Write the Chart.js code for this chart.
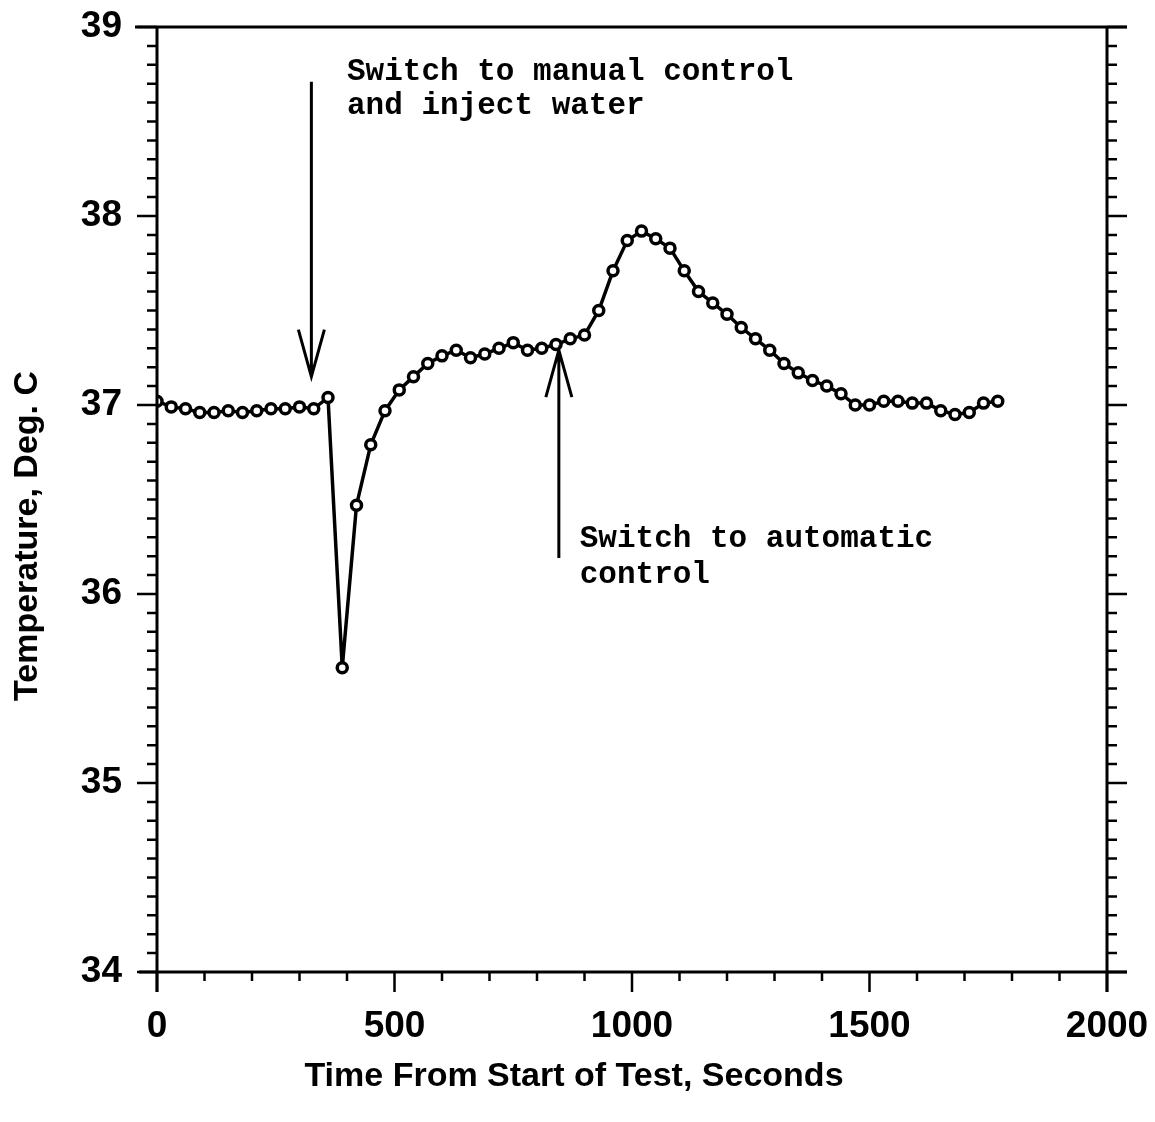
<!DOCTYPE html>
<html>
<head>
<meta charset="utf-8">
<script src="https://cdn.jsdelivr.net/npm/chart.js@4.4.1/dist/chart.umd.min.js"></script>
<style>
  body { margin: 0; background: #fff; }
  canvas { display: block; }
</style>
</head>
<body>
<canvas id="myChart" width="1155" height="1122" style="width:1155px;height:1122px"></canvas>
<script>
let times = [0, 30, 60, 90, 120, 150, 180, 210, 240, 270,
  300, 330, 360, 390, 420, 450, 480, 510, 540, 570,
  600, 630, 660, 690, 720, 750, 780, 810, 840, 870,
  900, 930, 960, 990, 1020, 1050, 1080, 1110, 1140, 1170,
  1200, 1230, 1260, 1290, 1320, 1350, 1380, 1410, 1440, 1470,
  1500, 1530, 1560, 1590, 1620, 1650, 1680, 1710, 1740, 1770];
let temps = [37.02, 36.99, 36.98, 36.96, 36.96, 36.97, 36.96, 36.97, 36.98, 36.98,
  36.99, 36.98, 37.04, 35.61, 36.47, 36.79, 36.97, 37.08, 37.15, 37.22,
  37.26, 37.29, 37.25, 37.27, 37.30, 37.33, 37.29, 37.30, 37.32, 37.35,
  37.37, 37.50, 37.71, 37.87, 37.92, 37.88, 37.83, 37.71, 37.60, 37.54,
  37.48, 37.41, 37.35, 37.29, 37.22, 37.17, 37.13, 37.10, 37.06, 37.00,
  37.00, 37.02, 37.02, 37.01, 37.01, 36.97, 36.95, 36.96, 37.01, 37.02];

let xTitle = 'Time From Start of Test, Seconds';
let yTitle = 'Temperature, Deg. C';

// arrows: x in seconds, from/to in deg C
let notes = [
  { x: 325, from: 38.71, to: 37.15, text: ['Switch to manual control', 'and inject water'], tx: 400, ty: [38.76, 38.58] },
  { x: 846, from: 36.19, to: 37.29, text: ['Switch to automatic', 'control'], tx: 890, ty: [36.29, 36.10] }
];

const frame = {
  id: 'frame',
  afterDraw(chart) {
    const c = chart.ctx;
    const xs = chart.scales.x, ys = chart.scales.y;
    const a = chart.chartArea;
    c.save();
    c.strokeStyle = '#000';
    c.lineCap = 'butt';
    c.lineWidth = 3;
    c.beginPath();
    c.moveTo(a.left - 22, a.top); c.lineTo(a.right + 20, a.top);
    c.moveTo(a.left - 18, a.bottom); c.lineTo(a.right + 20, a.bottom);
    c.moveTo(a.left, a.top); c.lineTo(a.left, a.bottom + 20);
    c.moveTo(a.right, a.top); c.lineTo(a.right, a.bottom + 20);
    c.stroke();

    c.lineWidth = 2.5;
    c.beginPath();
    for (let v = 0; v <= 2000; v += 100) {
      const px = xs.getPixelForValue(v);
      const len = v % 500 === 0 ? 20 : 9;
      c.moveTo(px, a.bottom); c.lineTo(px, a.bottom + len);
    }
    for (let i = 0; i <= 50; i++) {
      const py = ys.getPixelForValue(34 + i / 10);
      const len = i % 10 === 0 ? 20 : 10;
      c.moveTo(a.left, py); c.lineTo(a.left - len, py);
      c.moveTo(a.right, py); c.lineTo(a.right + len, py);
    }
    c.stroke();

    c.lineWidth = 3;
    c.fillStyle = '#000';
    c.font = 'bold 31px "Liberation Mono", "DejaVu Sans Mono", monospace';
    c.textBaseline = 'middle';
    c.textAlign = 'left';
    notes.forEach(n => {
      const px = xs.getPixelForValue(n.x);
      const y0 = ys.getPixelForValue(n.from);
      const y1 = ys.getPixelForValue(n.to);
      const dir = y1 > y0 ? 1 : -1;
      c.beginPath();
      c.moveTo(px, y0); c.lineTo(px, y1);
      c.moveTo(px - 13, y1 - dir * 47); c.lineTo(px, y1); c.lineTo(px + 13, y1 - dir * 47);
      c.stroke();
      n.text.forEach((t, i) => {
        c.fillText(t, xs.getPixelForValue(n.tx), ys.getPixelForValue(n.ty[i]));
      });
    });

    // axis titles (the scan has them off-centre)
    c.font = 'bold 34px "Liberation Sans", Arial, sans-serif';
    c.textAlign = 'center';
    c.fillText(xTitle, 574, 1077);
    c.translate(28, 536);
    c.rotate(-Math.PI / 2);
    c.fillText(yTitle, 0, 0);
    c.restore();
  }
};

let tickFont = { family: '"Liberation Sans", Arial, sans-serif', size: 37, weight: 'bold' };

let myChart = document.getElementById('myChart').getContext('2d');
let chart = new Chart(myChart, {
  type: 'line',
  data: {
    datasets: [{
      data: times.map((t, i) => ({ x: t, y: temps[i] })),
      borderColor: '#000',
      borderWidth: 3.5,
      pointRadius: 5,
      pointBorderWidth: 3.5,
      pointBackgroundColor: '#fff',
      pointBorderColor: '#000',
      tension: 0
    }]
  },
  options: {
    responsive: false,
    animation: false,
    layout: { padding: { top: 27, right: 48, left: 0, bottom: 0 } },
    plugins: { legend: { display: false }, tooltip: { enabled: false } },
    scales: {
      x: {
        type: 'linear', min: 0, max: 2000,
        ticks: { stepSize: 500, color: '#000', font: tickFont, padding: 33, maxRotation: 0, callback: v => String(v) },
        grid: { display: false, drawTicks: false },
        border: { display: false },
        afterFit(s) { s.height = 150; s.paddingLeft = 0; s.paddingRight = 0; }
      },
      y: {
        min: 34, max: 39,
        ticks: { stepSize: 1, color: '#000', font: tickFont, padding: 35, callback: v => String(v) },
        grid: { display: false, drawTicks: false },
        border: { display: false },
        afterFit(s) { s.width = 157; s.paddingTop = 0; s.paddingBottom = 0; }
      }
    }
  },
  plugins: [frame]
});
</script>
</body>
</html>
